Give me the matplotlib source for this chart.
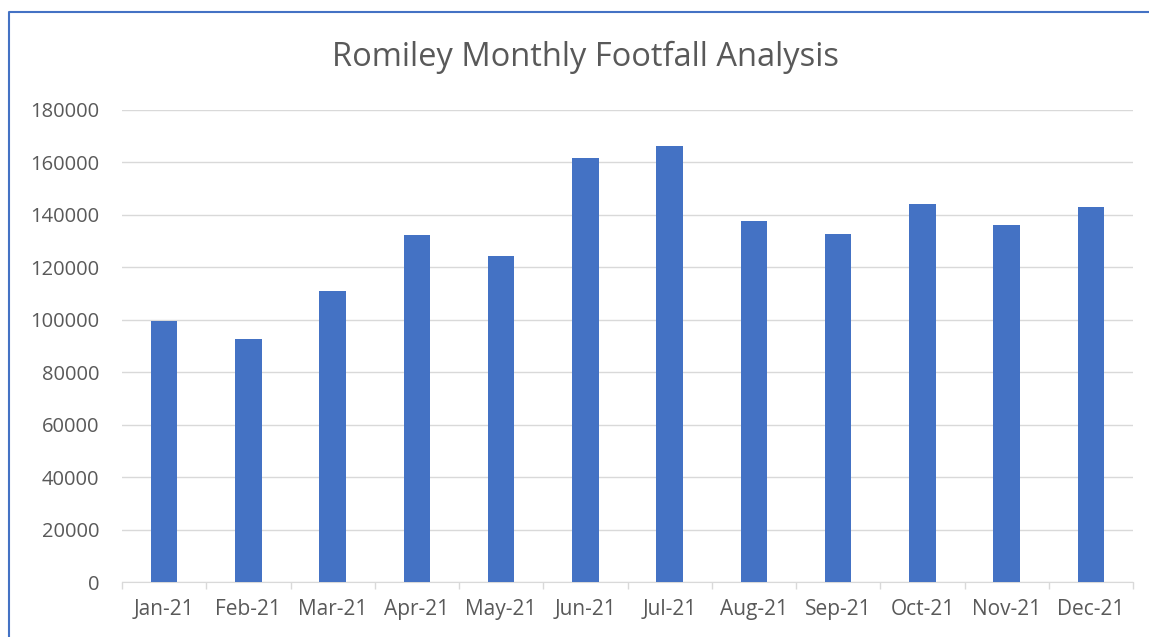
import matplotlib.pyplot as plt
from matplotlib.lines import Line2D
from matplotlib.ticker import MultipleLocator, FixedLocator

plt.rcParams['font.family'] = ['Open Sans', 'DejaVu Sans']

# monthly footfall
months = ['Jan-21', 'Feb-21', 'Mar-21', 'Apr-21', 'May-21', 'Jun-21',
          'Jul-21', 'Aug-21', 'Sep-21', 'Oct-21', 'Nov-21', 'Dec-21']
footfall = [99500, 92700, 111000, 132300, 124300, 161800,
            166200, 137700, 132700, 144200, 136200, 143000]

fig = plt.figure(figsize=(11.49, 6.37), dpi=100)
ax = fig.add_axes([122 / 1149, 1 - 582 / 637, (1133 - 122) / 1149, (582 - 110) / 637])

x = list(range(len(months)))
ax.bar(x, footfall, width=0.315, color='#4472C4', zorder=3)

ax.set_xlim(-0.5, len(months) - 0.5)
ax.set_ylim(0, 180000)
ax.yaxis.set_major_locator(MultipleLocator(20000))
ax.grid(axis='y', color='#D9D9D9', linewidth=1, zorder=0)

ax.set_xticks(x)
ax.set_xticklabels(months)
ax.xaxis.set_minor_locator(FixedLocator([i - 0.5 for i in range(len(months) + 1)]))
ax.tick_params(axis='x', which='major', length=0, pad=12, labelsize=15, labelcolor='#595959')
ax.tick_params(axis='x', which='minor', length=5, color='#D9D9D9', width=1)
ax.tick_params(axis='y', length=0, pad=16.5, labelsize=14.5, labelcolor='#595959')

for s in ['top', 'right', 'left']:
    ax.spines[s].set_visible(False)
ax.spines['bottom'].set_color('#D9D9D9')

fig.text(585 / 1149, 1 - 57 / 637, 'Romiley Monthly Footfall Analysis',
         ha='center', va='center', fontsize=23.5, color='#595959')

# blue chart frame on the left and top
fx = 8.5 / 1149
fy = 1 - 11.5 / 637
fig.add_artist(Line2D([fx, fx, 1], [0, fy, fy], transform=fig.transFigure,
                      color='#4472C4', linewidth=1.5))

fig.savefig('out.png', dpi=100)
